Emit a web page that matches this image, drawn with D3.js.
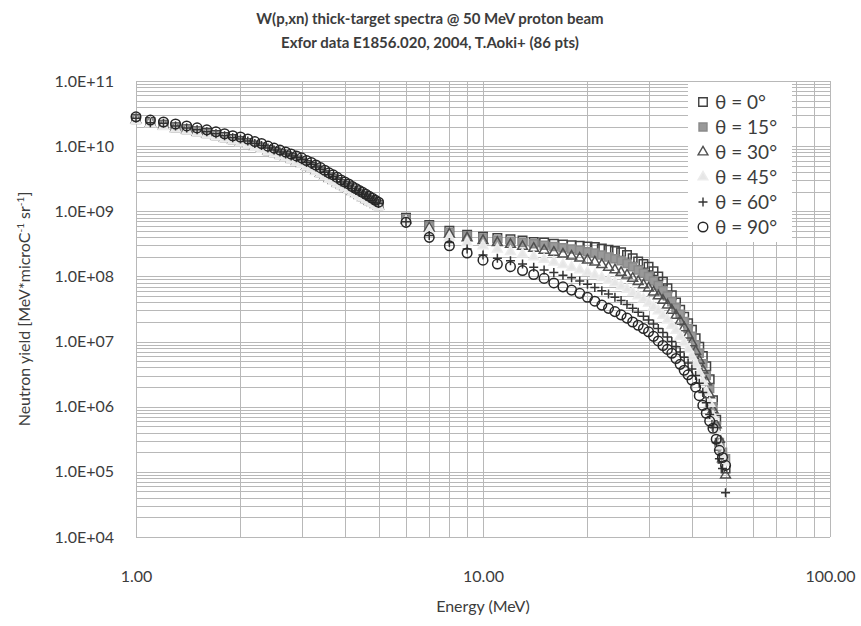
<!DOCTYPE html>
<html>
<head>
<meta charset="utf-8">
<script src="https://cdn.jsdelivr.net/npm/d3@7"></script>
<style>
  body { margin: 0; background: #fff; }
  svg text { font-family: Lato, "Open Sans", "DejaVu Sans", sans-serif; fill: #3c3c3c; }
</style>
</head>
<body>
<div id="chart"></div>
<script>
// energies (MeV): 1.0 - 5.0 by 0.1, then 6 - 50 by 1  (86 pts)
const energy = [
  1.0, 1.1, 1.2, 1.3, 1.4, 1.5, 1.6, 1.7, 1.8, 1.9,
  2.0, 2.1, 2.2, 2.3, 2.4, 2.5, 2.6, 2.7, 2.8, 2.9,
  3.0, 3.1, 3.2, 3.3, 3.4, 3.5, 3.6, 3.7, 3.8, 3.9,
  4.0, 4.1, 4.2, 4.3, 4.4, 4.5, 4.6, 4.7, 4.8, 4.9, 5.0,
  6, 7, 8, 9, 10, 11, 12, 13, 14, 15, 16, 17, 18, 19, 20,
  21, 22, 23, 24, 25, 26, 27, 28, 29, 30, 31, 32, 33, 34, 35,
  36, 37, 38, 39, 40, 41, 42, 43, 44, 45, 46, 47, 48, 49, 50
];

// neutron yield, given as log10 of MeV*microC-1 sr-1
const logYield0 = [
  10.42, 10.37, 10.33, 10.29, 10.26, 10.23, 10.20, 10.17, 10.14, 10.11,
  10.08, 10.05, 10.01, 9.98, 9.94, 9.91, 9.88, 9.85, 9.82, 9.78,
  9.75, 9.71, 9.68, 9.64, 9.60, 9.56, 9.52, 9.49, 9.45, 9.42,
  9.39, 9.36, 9.32, 9.29, 9.26, 9.23, 9.20, 9.17, 9.15, 9.12, 9.10,
  8.90, 8.79, 8.70, 8.64, 8.61, 8.59, 8.57, 8.55, 8.53, 8.52, 8.50, 8.49, 8.48, 8.47, 8.46,
  8.45, 8.43, 8.41, 8.39, 8.37, 8.33, 8.28, 8.23, 8.19, 8.15, 8.08, 8.00, 7.92, 7.82, 7.71,
  7.60, 7.49, 7.38, 7.28, 7.18, 7.05, 6.92, 6.78, 6.62, 6.42, 6.10, 5.80, 5.40, 5.20, 5.05
];
const logYield15 = [
  10.41, 10.36, 10.32, 10.28, 10.25, 10.22, 10.19, 10.16, 10.13, 10.10,
  10.07, 10.04, 10.00, 9.97, 9.93, 9.90, 9.87, 9.84, 9.81, 9.77,
  9.74, 9.70, 9.67, 9.63, 9.59, 9.55, 9.51, 9.48, 9.44, 9.41,
  9.38, 9.35, 9.31, 9.28, 9.25, 9.22, 9.19, 9.16, 9.14, 9.11, 9.09,
  8.88, 8.77, 8.68, 8.62, 8.59, 8.56, 8.54, 8.52, 8.50, 8.48, 8.46, 8.44, 8.42, 8.40, 8.38,
  8.36, 8.33, 8.30, 8.27, 8.24, 8.20, 8.15, 8.10, 8.05, 8.00, 7.93, 7.86, 7.78, 7.70, 7.61,
  7.52, 7.42, 7.31, 7.20, 7.08, 6.95, 6.82, 6.66, 6.48, 6.28, 6.00, 5.70, 5.45, 5.30, 5.20
];
const logYield30 = [
  10.40, 10.35, 10.31, 10.27, 10.24, 10.21, 10.18, 10.15, 10.12, 10.09,
  10.06, 10.03, 9.99, 9.96, 9.92, 9.89, 9.86, 9.83, 9.80, 9.76,
  9.73, 9.69, 9.66, 9.62, 9.58, 9.54, 9.50, 9.47, 9.43, 9.40,
  9.37, 9.34, 9.30, 9.27, 9.24, 9.21, 9.18, 9.15, 9.13, 9.10, 9.08,
  8.86, 8.74, 8.65, 8.59, 8.55, 8.52, 8.49, 8.46, 8.43, 8.40, 8.37, 8.34, 8.31, 8.28, 8.25,
  8.22, 8.18, 8.14, 8.10, 8.06, 8.02, 7.97, 7.92, 7.87, 7.82, 7.76, 7.70, 7.63, 7.56, 7.48,
  7.40, 7.31, 7.21, 7.10, 6.98, 6.85, 6.71, 6.56, 6.38, 6.18, 5.95, 5.72, 5.50, 5.20, 4.95
];
const logYield45 = [
  10.39, 10.34, 10.30, 10.26, 10.23, 10.20, 10.17, 10.14, 10.11, 10.08,
  10.05, 10.02, 9.98, 9.95, 9.91, 9.88, 9.85, 9.82, 9.79, 9.75,
  9.72, 9.68, 9.65, 9.61, 9.57, 9.53, 9.49, 9.46, 9.42, 9.39,
  9.36, 9.33, 9.29, 9.26, 9.23, 9.20, 9.17, 9.14, 9.12, 9.09, 9.07,
  8.85, 8.70, 8.60, 8.52, 8.47, 8.42, 8.38, 8.34, 8.30, 8.26, 8.22, 8.18, 8.14, 8.10, 8.06,
  8.02, 7.98, 7.94, 7.90, 7.85, 7.80, 7.75, 7.70, 7.65, 7.59, 7.53, 7.47, 7.40, 7.33, 7.25,
  7.17, 7.08, 6.98, 6.88, 6.77, 6.65, 6.52, 6.38, 6.22, 6.05, 5.85, 5.62, 5.40, 5.25, 5.15
];
const logYield60 = [
  10.43, 10.36, 10.35, 10.31, 10.28, 10.25, 10.22, 10.19, 10.16, 10.13,
  10.11, 10.08, 10.04, 10.01, 9.97, 9.94, 9.91, 9.88, 9.85, 9.82,
  9.79, 9.75, 9.72, 9.68, 9.64, 9.60, 9.56, 9.53, 9.49, 9.45,
  9.42, 9.39, 9.35, 9.32, 9.29, 9.26, 9.23, 9.20, 9.17, 9.14, 9.12,
  8.84, 8.63, 8.52, 8.42, 8.33, 8.28, 8.24, 8.19, 8.14, 8.10, 8.06, 8.02, 7.98, 7.93, 7.88,
  7.83, 7.78, 7.73, 7.68, 7.63, 7.57, 7.51, 7.45, 7.39, 7.33, 7.27, 7.20, 7.14, 7.07, 7.00,
  6.92, 6.84, 6.76, 6.67, 6.58, 6.48, 6.36, 6.22, 6.06, 5.88, 5.68, 5.45, 5.20, 5.05, 4.68
];
const logYield90 = [
  10.45, 10.40, 10.37, 10.34, 10.31, 10.28, 10.25, 10.22, 10.19, 10.16,
  10.14, 10.11, 10.07, 10.04, 10.00, 9.97, 9.94, 9.91, 9.88, 9.85,
  9.82, 9.78, 9.75, 9.71, 9.67, 9.63, 9.59, 9.56, 9.52, 9.48,
  9.45, 9.42, 9.38, 9.35, 9.32, 9.29, 9.26, 9.23, 9.20, 9.17, 9.14,
  8.83, 8.60, 8.47, 8.36, 8.25, 8.19, 8.15, 8.09, 8.03, 7.97, 7.90, 7.84, 7.79, 7.74, 7.68,
  7.62, 7.56, 7.51, 7.46, 7.41, 7.36, 7.30, 7.25, 7.20, 7.15, 7.08, 7.01, 6.94, 6.88, 6.82,
  6.74, 6.65, 6.56, 6.49, 6.41, 6.30, 6.17, 6.02, 5.90, 5.78, 5.67, 5.50, 5.33, 5.22, 5.10
];

const seriesNames = ["θ = 0°", "θ = 15°", "θ = 30°", "θ = 45°", "θ = 60°", "θ = 90°"];
const xTickValues = [1, 10, 100];
const xTickLabels = ["1.00", "10.00", "100.00"];
const yTickValues = [1e4, 1e5, 1e6, 1e7, 1e8, 1e9, 1e10, 1e11];
const yTickLabels = ["1.0E+04", "1.0E+05", "1.0E+06", "1.0E+07", "1.0E+08", "1.0E+09", "1.0E+10", "1.0E+11"];

const width = 861, height = 626;

const svg = d3.select("#chart")
  .append("svg")
  .attr("width", width)
  .attr("height", height);

const x = d3.scaleLog().domain([1, 100]).range([136, 830]);
const y = d3.scaleLog().domain([1e4, 1e11]).range([537, 81]);

// grid: every 1..9 of each decade, like excel's major + minor lines
const xGrid = [], yGrid = [];
[1, 10].forEach(dec => d3.range(1, 10).forEach(k => xGrid.push(k * dec)));
xGrid.push(100);
d3.range(4, 11).forEach(p => d3.range(1, 10).forEach(k => yGrid.push(k * Math.pow(10, p))));
yGrid.push(1e11);

const grid = svg.append("g")
  .attr("stroke", "#b8b8b8")
  .attr("stroke-width", 1)
  .attr("shape-rendering", "crispEdges");

grid.selectAll(".vx")
  .data(xGrid)
  .join("line")
  .attr("x1", d => Math.round(x(d)) + 0.5)
  .attr("x2", d => Math.round(x(d)) + 0.5)
  .attr("y1", y(1e11))
  .attr("y2", y(1e4));

grid.selectAll(".hy")
  .data(yGrid)
  .join("line")
  .attr("x1", x(1))
  .attr("x2", x(100))
  .attr("y1", d => Math.round(y(d)) + 0.5)
  .attr("y2", d => Math.round(y(d)) + 0.5);

// axes (labels only, excel style)
svg.append("g")
  .attr("transform", `translate(0, ${y(1e4) + 31})`)
  .call(d3.axisBottom(x).tickValues(xTickValues).tickFormat((d, i) => xTickLabels[i]).tickSize(0))
  .call(g => g.select(".domain").remove())
  .selectAll("text")
  .style("font-size", "16px");

svg.append("g")
  .attr("transform", `translate(${x(1) - 19}, 0)`)
  .call(d3.axisLeft(y).tickValues(yTickValues).tickFormat((d, i) => yTickLabels[i]).tickSize(0))
  .call(g => g.select(".domain").remove())
  .selectAll("text")
  .style("font-size", "16px");

// titles
svg.append("text")
  .attr("x", 430).attr("y", 24)
  .attr("text-anchor", "middle")
  .style("font-size", "15px").style("font-weight", "bold")
  .text("W(p,xn) thick-target spectra @ 50 MeV proton beam");
svg.append("text")
  .attr("x", 430).attr("y", 48)
  .attr("text-anchor", "middle")
  .style("font-size", "15px").style("font-weight", "bold")
  .text("Exfor data E1856.020, 2004, T.Aoki+ (86 pts)");

svg.append("text")
  .attr("x", (x(1) + x(100)) / 2).attr("y", 612)
  .attr("text-anchor", "middle")
  .style("font-size", "16px")
  .text("Energy (MeV)");

const ytitle = svg.append("text")
  .attr("transform", `translate(30, ${(y(1e4) + y(1e11)) / 2}) rotate(-90)`)
  .attr("text-anchor", "middle")
  .style("font-size", "16px");
ytitle.append("tspan").text("Neutron yield [MeV*microC");
ytitle.append("tspan").attr("dy", -6).style("font-size", "10px").text("-1");
ytitle.append("tspan").attr("dy", 6).text(" sr");
ytitle.append("tspan").attr("dy", -6).style("font-size", "10px").text("-1");
ytitle.append("tspan").attr("dy", 6).text("]");

// markers
const plusPath = "M-4.5,0H4.5M0,-4.5V4.5";
const styles = [
  { d: d3.symbol(d3.symbolSquare, 72)(), fill: "none", stroke: "#404040" },
  { d: d3.symbol(d3.symbolSquare, 64)(), fill: "#999", stroke: "#8a8a8a" },
  { d: d3.symbol(d3.symbolTriangle, 42)(), fill: "none", stroke: "#505050" },
  { d: d3.symbol(d3.symbolTriangle, 42)(), fill: "#e6e6e6", stroke: "#ececec" },
  { d: plusPath, fill: "none", stroke: "#333" },
  { d: d3.symbol(d3.symbolCircle, 72)(), fill: "none", stroke: "#262626" }
];

const allYields = [logYield0, logYield15, logYield30, logYield45, logYield60, logYield90];
const series = allYields.map((vals, i) => ({
  name: seriesNames[i],
  style: styles[i],
  points: energy.map((e, j) => ({ e: e, v: Math.pow(10, vals[j]) }))
}));

series.forEach(s => {
  svg.append("g")
    .selectAll("path")
    .data(s.points)
    .join("path")
    .attr("d", s.style.d)
    .attr("transform", d => `translate(${x(d.e)},${y(d.v)})`)
    .attr("fill", s.style.fill)
    .attr("stroke", s.style.stroke)
    .attr("stroke-width", 1.5);
});

// legend
const legend = svg.append("g").attr("transform", "translate(688, 82)");
legend.append("rect")
  .attr("width", 104).attr("height", 160)
  .attr("fill", "#fff");

const item = legend.selectAll("g")
  .data(series)
  .join("g")
  .attr("transform", (d, i) => `translate(0, ${20 + i * 25})`);
item.append("path")
  .attr("d", d => d.style.d)
  .attr("transform", "translate(15, 0)")
  .attr("fill", d => d.style.fill)
  .attr("stroke", d => d.style.stroke)
  .attr("stroke-width", 1.4);
item.append("text")
  .attr("x", 27).attr("dy", "0.35em")
  .style("font-size", "19px")
  .text(d => d.name);
</script>
</body>
</html>
